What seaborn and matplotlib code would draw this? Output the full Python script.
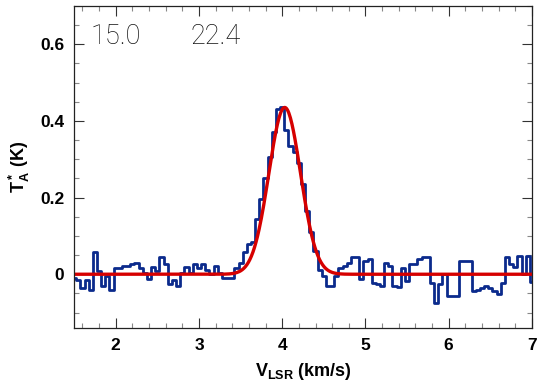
import numpy as np
import pandas as pd
import matplotlib
matplotlib.use("Agg")
import matplotlib.pyplot as plt
import seaborn as sns
from matplotlib.ticker import MultipleLocator, FuncFormatter

# ---- data ----
v_start = 1.50
chan_width = 0.05
ta_values = [
    -0.010, -0.015, -0.035, -0.015, -0.040, 0.057, 0.009, -0.030, -0.005, -0.042,
    0.016, 0.016, 0.022, 0.022, 0.026, 0.029, 0.017, 0.004, -0.013, 0.019,
    0.008, 0.044, 0.026, -0.026, -0.015, -0.030, 0.004, 0.019, 0.004, 0.026,
    0.017, 0.026, 0.010, 0.000, 0.022, 0.004, -0.009, -0.009, -0.009, 0.015,
    0.030, 0.057, 0.078, 0.084, 0.145, 0.195, 0.250, 0.305, 0.370, 0.430,
    0.435, 0.375, 0.335, 0.320, 0.290, 0.235, 0.165, 0.110, 0.060,
    0.010, -0.005, -0.030, -0.030, -0.005, 0.015, 0.022, 0.030, 0.045, 0.045,
    -0.013, 0.035, 0.040, -0.022, -0.026, -0.030, 0.030, 0.022, -0.030, -0.033,
    0.017, -0.017, 0.026, 0.026, 0.039, 0.045, 0.045, -0.022, -0.074, -0.026,
    0.000, -0.057, -0.057, -0.057, 0.035, 0.035, 0.035, -0.044, -0.040, -0.035,
    -0.030, -0.035, -0.045, -0.052, -0.022, 0.044, 0.026, 0.020, 0.048, 0.000,
    0.048, -0.020,
]
velocity = [round(v_start + chan_width * i, 3) for i in range(len(ta_values))]

# Gaussian fit parameters
fit_amp = 0.435
fit_center = 4.03
fit_sigma = 0.19

label_left = "15.0"
label_right = "22.4"

x_ticks = [2, 3, 4, 5, 6, 7]
y_ticks = [0, 0.2, 0.4, 0.6]

# ---- style ----
sns.set_style("ticks")
plt.rcParams["font.family"] = ["Liberation Sans", "DejaVu Sans"]
plt.rcParams["mathtext.fontset"] = "custom"
plt.rcParams["mathtext.rm"] = "Liberation Sans:bold"
plt.rcParams["mathtext.bf"] = "Liberation Sans:bold"
plt.rcParams["mathtext.it"] = "Liberation Sans:bold"
plt.rcParams["text.color"] = "black"
plt.rcParams["axes.labelcolor"] = "black"
plt.rcParams["xtick.labelcolor"] = "black"
plt.rcParams["ytick.labelcolor"] = "black"

spec = pd.DataFrame({"v": velocity, "ta": ta_values})
vfine = np.linspace(1.5, 7.0, 600)
fit = pd.DataFrame({"v": vfine,
                    "ta": fit_amp * np.exp(-0.5 * ((vfine - fit_center) / fit_sigma) ** 2)})

fig = plt.figure(figsize=(5.45, 3.89), dpi=100)
ax = fig.add_axes([0.136, 0.157, 0.840, 0.828])

sns.lineplot(data=spec, x="v", y="ta", ax=ax, color="#0b2a8c", lw=2.0,
             drawstyle="steps-mid", estimator=None, sort=False)
sns.lineplot(data=fit, x="v", y="ta", ax=ax, color="#d60000", lw=2.4,
             estimator=None, sort=False)

ax.set_xlim(1.5, 7.0)
ax.set_ylim(-0.14, 0.70)

ax.set_xticks(x_ticks)
ax.set_yticks(y_ticks)
ax.xaxis.set_minor_locator(MultipleLocator(0.2))
ax.yaxis.set_minor_locator(MultipleLocator(0.05))
ax.yaxis.set_major_formatter(FuncFormatter(lambda y, p: "%g" % y))
ax.tick_params(which="both", direction="in", top=True, right=True,
               color="#333333", width=0.8, labelcolor="black")
ax.tick_params(which="major", length=7, labelsize=12.5, pad=7)
ax.tick_params(which="minor", length=3.5, color="#888888")
for lab in ax.get_xticklabels() + ax.get_yticklabels():
    lab.set_fontweight("bold")

for sp in ax.spines.values():
    sp.set_visible(True)
    sp.set_linewidth(0.9)
    sp.set_color("#222222")

ax.set_xlabel(r"V$_{\rm LSR}$ (km/s)", fontsize=13, fontweight="bold", labelpad=6,
              color="black")
ax.set_ylabel(r"T$_{\rm A}^{\rm *}$ (K)", fontsize=13, fontweight="bold", labelpad=6,
              color="black")

ax.text(0.035, 0.905, label_left, transform=ax.transAxes, fontsize=19.5,
        va="center", ha="left", color="#111111", family=["Roboto", "DejaVu Sans"],
        fontweight="light")
ax.text(0.255, 0.905, label_right, transform=ax.transAxes, fontsize=19.5,
        va="center", ha="left", color="#111111", family=["Roboto", "DejaVu Sans"],
        fontweight="light")

fig.savefig("out.png", dpi=100)
